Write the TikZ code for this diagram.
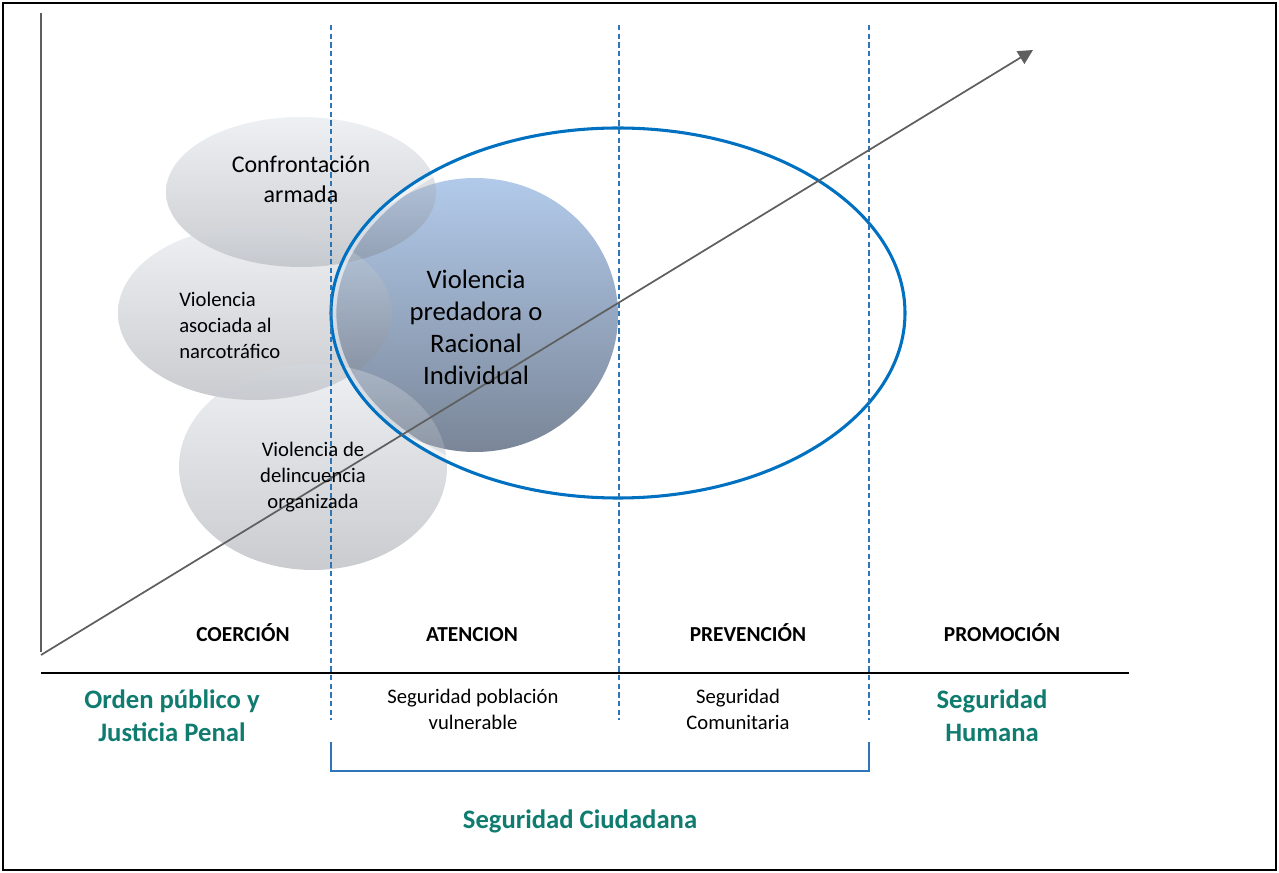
\documentclass[tikz,border=0pt]{standalone}
\usepackage{fontspec}
\setmainfont{Carlito}
\usetikzlibrary{arrows.meta}
\definecolor{mygreen}{RGB}{16,124,112}
\definecolor{myblue}{RGB}{0,112,192}
\definecolor{dashblue}{RGB}{46,117,182}
\definecolor{axisgray}{RGB}{95,95,95}
\definecolor{graytop}{RGB}{212,218,226}
\definecolor{graybot}{RGB}{122,126,134}
\definecolor{bluetop}{RGB}{178,202,234}
\definecolor{bluebot}{RGB}{122,134,152}
\tikzset{
  grayell/.style={top color=graytop, bottom color=graybot, fill opacity=0.4},
  blueball/.style={top color=bluetop, bottom color=bluebot},
  dashline/.style={draw=dashblue, line width=1.3pt, dash pattern=on 4pt off 2.5pt},
  txtA/.style={font=\fontsize{18}{22.5}\selectfont, align=center, inner sep=0pt},
  txtB/.style={font=\fontsize{15.5}{19.5}\selectfont, inner sep=0pt},
  txtC/.style={font=\fontsize{20}{24}\selectfont, align=center, inner sep=0pt},
  lab/.style={font=\fontsize{16}{19.5}\selectfont\bfseries, inner sep=0pt, anchor=base},
  sub/.style={font=\fontsize{15.5}{19.5}\selectfont, align=center, inner sep=0pt},
  grn/.style={font=\fontsize{20}{24.5}\selectfont\bfseries, text=mygreen, align=center, inner sep=0pt}
}
\begin{document}
\begin{tikzpicture}[x=0.75pt,y=-0.75pt]
\useasboundingbox (0,0) rectangle (1279,873);
% frame
\draw[line width=1.8pt] (3,3) rectangle (1276,870);
% vertical axis and baseline
\coordinate (axtop) at (41,13);
\coordinate (axbot) at (41,652);
\draw[axisgray, line width=1.6pt] (axtop) -- (axbot);
\coordinate (hl) at (41,673);
\coordinate (hr) at (1129,673);
\draw[black, line width=1.5pt] (hl) -- (hr);
% blue ball
\shade[blueball] (475,315) ellipse (143 and 137);
% gray ellipses
\shade[grayell] (301,192) ellipse (135 and 75);
\shade[grayell] (255,313) ellipse (137 and 87);
\shade[grayell] (313,467) ellipse (134 and 103);
% big blue ellipse
\draw[white, line width=3.5pt, opacity=0.6] (618,313) ellipse (284 and 182);
\draw[myblue, line width=2.3pt] (618,313) ellipse (287 and 185);
% dashed lines
\foreach \x/\n in {331/a,619/b,869/c}{
  \coordinate (d\n t) at (\x,25);
  \coordinate (d\n b) at (\x,720);
  \draw[dashline] (d\n t) -- (d\n b);
}
% bracket
\coordinate (bl) at (331,742);
\coordinate (br) at (869,742);
\draw[dashblue, line width=1.3pt] (bl) -- (331,771) -- (869,771) -- (br);
% arrow
\coordinate (arS) at (41,655);
\coordinate (arE) at (1033,50);
\draw[axisgray, line width=1.3pt, -{Triangle[length=11pt,width=11pt]}] (arS) -- (arE);
% texts
\node[txtA] (t1) at (301,179) {Confrontación\\armada};
\node[txtB, align=left, anchor=west] (t2) at (179,325) {Violencia\\asociada al\\narcotráfico};
\node[sub] (t3) at (313,477) {Violencia de\\delincuencia\\organizada};
\node[txtC] (t4) at (476,327) {Violencia\\predadora o\\Racional\\Individual};
\node[lab] (l1) at (243,641) {COERCIÓN};
\node[lab] (l2) at (472,641) {ATENCION};
\node[lab] (l3) at (748,641) {PREVENCIÓN};
\node[lab] (l4) at (1002,641) {PROMOCIÓN};
\node[sub] (s1) at (473,709) {Seguridad población\\vulnerable};
\node[sub] (s2) at (738,709) {Seguridad\\Comunitaria};
\node[grn] (g1) at (172,716) {Orden público y\\Justicia Penal};
\node[grn] (g2) at (992,716) {Seguridad\\Humana};
\node[grn] (g3) at (580,821) {Seguridad Ciudadana};
\end{tikzpicture}
\end{document}
